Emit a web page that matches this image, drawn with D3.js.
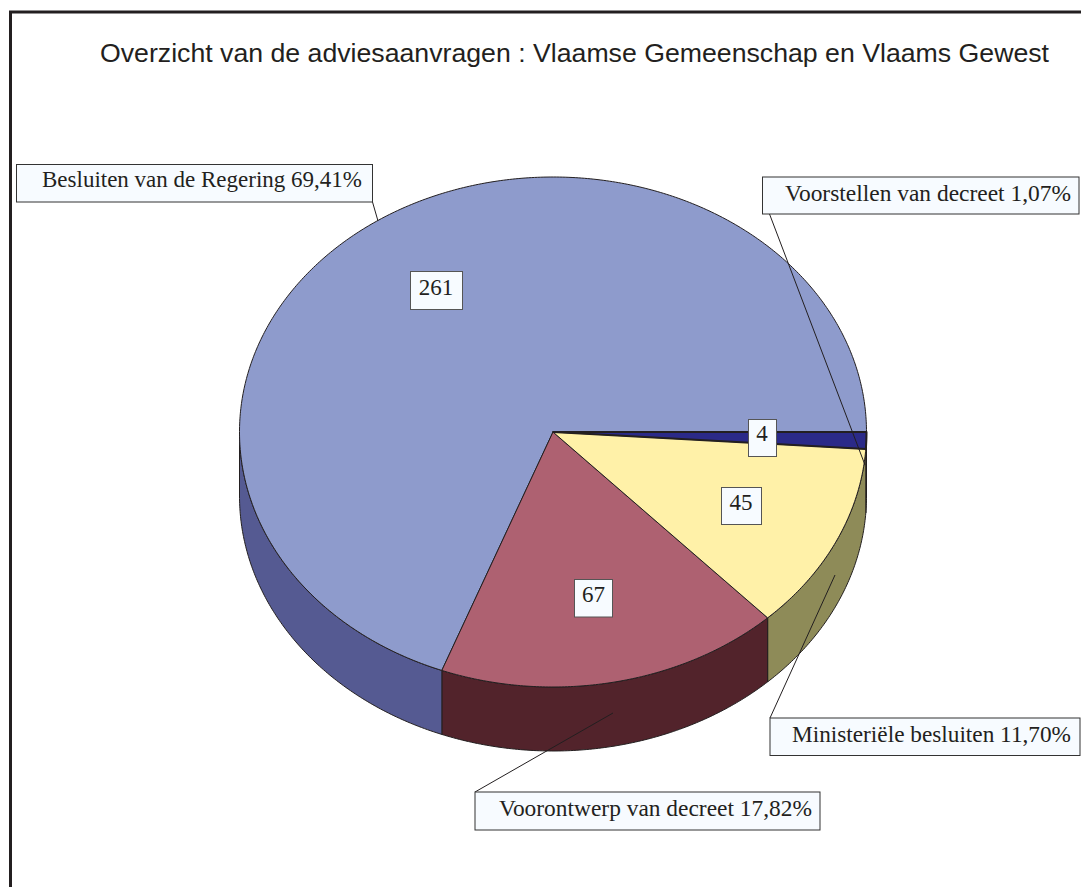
<!DOCTYPE html>
<html><head><meta charset="utf-8">
<style>html,body{margin:0;padding:0;background:#fff;overflow:hidden}svg{display:block}</style>
<script src="https://cdn.jsdelivr.net/npm/d3@7"></script></head><body>
<script>
const titleText = "Overzicht van de adviesaanvragen : Vlaamse Gemeenschap en Vlaams Gewest";
const categories = ["Voorstellen van decreet","Ministeriële besluiten","Voorontwerp van decreet","Besluiten van de Regering"];
const values = [4,45,67,261];
const shareLabels = ["1,07%","11,70%","17,82%","69,41%"];
const topColors = ["#2B2A88","#FFF1A8","#AE6171","#8E9BCC"];
const sideColors = ["#8E8B58","#8E8B58","#52232B","#555A92"];

// layout
const W=1081,H=887,cx=553,cy=432,rx=313.5,ry=255,depth=64;
const labelBoxes=[[762.5,177,316.5,37,785,200.5,286,769.5,214,865,465],
                  [770,718,310,37.5,792,741.5,279,770,718,835,575],
                  [475,792,345,38,499,815.5,313,475,792,613,713],
                  [16.5,164.5,356,37.5,42,186.5,320,372.5,202,378,221]];
const valueBoxes=[[748,419,28,37,762,441],[721,487,40,37,741,510],[574,579,38,37.5,593.5,602],[410,271,52,38,436,295]];

const svg=d3.select("body").append("svg").attr("width",W).attr("height",H);
const x=d3.scaleLinear().domain([-1,1]).range([cx-rx,cx+rx]);
const y=d3.scaleLinear().domain([-1,1]).range([cy-ry,cy+ry]);

// frame
svg.append("path").attr("d",`M10.5,${H} V12 H${W}`).attr("fill","none").attr("stroke","#231f20").attr("stroke-width",3);

// title
svg.append("text").text(titleText).attr("x",100).attr("y",62)
  .attr("font-family","Liberation Sans").attr("font-size",26).attr("fill","#231f20")
  .attr("textLength",949).attr("lengthAdjust","spacingAndGlyphs");

// pie: clockwise from 3 o'clock
const pie=d3.pie().value(d=>d).sort(null).startAngle(0).endAngle(2*Math.PI);
const arcs=pie(values);
const px=a=>x(Math.cos(a)), py=a=>y(Math.sin(a));
const line=d3.line();
function rim(a0,a1,dy){
  const n=Math.max(2,Math.ceil((a1-a0)/0.01));
  return d3.range(n+1).map(i=>{const a=a0+(a1-a0)*i/n;return [px(a),py(a)+dy];});
}
// side walls (visible for lower half only)
const g=svg.append("g").attr("stroke","#231f20").attr("stroke-width",1).attr("stroke-linejoin","round");
arcs.forEach((d,i)=>{
  const a0=d.startAngle,a1=Math.min(d.endAngle,Math.PI);
  if(a0>=Math.PI) return;
  const pts=rim(a0,a1,0).concat(rim(a0,a1,depth).reverse());
  g.append("path").attr("d",line(pts)+"Z").attr("fill",sideColors[i]);
});
[3,2,1,0].forEach(i=>{
  const d=arcs[i];
  const pts=[[cx,cy]].concat(rim(d.startAngle,d.endAngle,0));
  g.append("path").attr("d",line(pts)+"Z").attr("fill",topColors[i]).attr("stroke-width",i===0?2:1);
});

// value boxes
const serif="Liberation Serif";
values.forEach((v,i)=>{
  const b=valueBoxes[i];
  svg.append("rect").attr("x",b[0]+.5).attr("y",b[1]+.5).attr("width",b[2]).attr("height",b[3])
    .attr("fill","#F7FBFF").attr("stroke","#555").attr("stroke-width",1);
  svg.append("text").text(v).attr("x",b[4]).attr("y",b[5]).attr("text-anchor","middle")
    .attr("font-family",serif).attr("font-size",23).attr("fill","#231f20");
});

// leaders and label boxes
categories.forEach((c,i)=>{
  const b=labelBoxes[i];
  svg.append("line").attr("x1",b[7]).attr("y1",b[8]).attr("x2",b[9]).attr("y2",b[10])
    .attr("stroke","#231f20").attr("stroke-width",1);
  svg.append("rect").attr("x",b[0]).attr("y",b[1]).attr("width",b[2]).attr("height",b[3])
    .attr("fill","#F7FBFF").attr("stroke","#333").attr("stroke-width",1);
  svg.append("text").text(c+" "+shareLabels[i]).attr("x",b[4]).attr("y",b[5])
    .attr("font-family",serif).attr("font-size",24).attr("fill","#231f20")
    .attr("textLength",b[6]).attr("lengthAdjust","spacingAndGlyphs");
});
</script></body></html>
